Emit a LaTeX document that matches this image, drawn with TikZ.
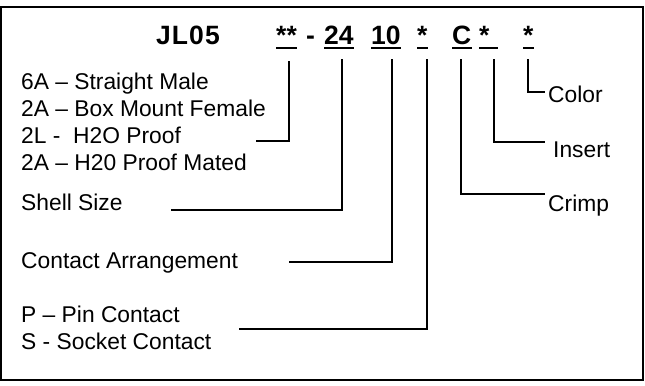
\documentclass[tikz,border=0pt]{standalone}
\usepackage{fontspec}
\setmainfont{Liberation Sans}
\begin{document}
\begin{tikzpicture}[x=1bp,y=-1bp,
  lbl/.style={anchor=base west,inner sep=0pt,font=\fontsize{22.8bp}{27bp}\selectfont},
  ttl/.style={anchor=base west,inner sep=0pt,font=\fontsize{26.5bp}{30bp}\selectfont\bfseries},
  wire/.style={line width=2bp},
  ul/.style={line width=2bp},
  frame/.style={line width=2bp}]
\useasboundingbox (0,0) rectangle (645,385);
\draw[frame] (1,7) rectangle (643,380);
% title
\node[ttl] (jl) at (156,44.5) {\addfontfeature{LetterSpace=4}JL05};
\node[ttl] (t1) at (276,44.5) {**};
\node[ttl] (dash) at (306,44.5) {-};
\node[ttl] (t2) at (324,44.5) {24};
\node[ttl] (t3) at (371,44.5) {10};
\node[ttl] (t4) at (417,44.5) {*};
\node[ttl] (t5) at (452,44.5) {C};
\node[ttl] (t6) at (479,44.5) {\makebox[19bp][l]{*}};
\node[ttl] (t7) at (523,44.5) {*};
\foreach \n in {t1,t2,t3,t4,t5,t6,t7}
  \draw[ul] ([yshift=-3.5bp]\n.base west) -- ([yshift=-3.5bp]\n.base east);
% left labels
\node[lbl] (m1) at (21,89.5) {6A – Straight Male};
\node[lbl] (m2) at (21,116) {2A – Box Mount Female};
\node[lbl] (m3) at (21,143) {2L -\ \ H2O Proof};
\node[lbl] (m4) at (21,170) {2A – H20 Proof Mated};
\node[lbl] (ss) at (21,210) {Shell Size};
\node[lbl] (ca) at (21,268) {Contact Arrangement};
\node[lbl] (pc) at (21,322) {P – Pin Contact};
\node[lbl] (sc) at (21,349) {S - Socket Contact};
% right labels
\node[lbl] (col) at (548,102.5) {Color};
\node[lbl] (ins) at (553,157.5) {Insert};
\node[lbl] (cri) at (548,211.5) {Crimp};
% tick tops
\coordinate (k1) at (289,61);
\coordinate (k2) at (342,59);
\coordinate (k3) at (392,59);
\coordinate (k4) at (427,59);
\coordinate (k5) at (461,59);
\coordinate (k6) at (494,59);
\coordinate (k7) at (528,59);
% free ends
\coordinate (e1) at (256,141);
\coordinate (e2) at (171,210);
\coordinate (e3) at (289,262);
\coordinate (e4) at (239,329);
\coordinate (e5) at (545,194);
\coordinate (e6) at (545,142);
\coordinate (e7) at (545,92);
\foreach \i in {1,...,7}
  \draw[wire] (k\i) |- (e\i);
\end{tikzpicture}
\end{document}
